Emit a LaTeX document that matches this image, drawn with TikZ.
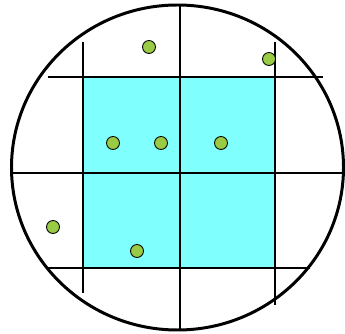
\documentclass[tikz,border=0pt]{standalone}
\usepackage{xcolor}
\usepackage{tikz}
\usetikzlibrary{shapes.geometric, positioning, calc}
\definecolor{cellcyan}{RGB}{128,255,255}
\definecolor{dotgreen}{RGB}{153,204,68}
\tikzstyle{gridline} = [line width=1.7pt, black]
\tikzstyle{dot} = [circle, draw=black, line width=0.5pt, fill=dotgreen, minimum size=0.26cm, inner sep=0pt]

\begin{document}
\begin{tikzpicture}[x=0.02cm, y=-0.02cm]
    \useasboundingbox (0,0) rectangle (345,334);
    % Inner cells
    \fill [cellcyan] (83,77) rectangle (275,268);

    % Grid
    \draw [gridline] (180,5) -- (180,330);
    \draw [gridline] (83,42) -- (83,293);
    \draw [gridline] (275,42) -- (275,305);
    \draw [gridline] (48,77) -- (323,77);
    \draw [gridline] (11,173) -- (345,173);
    \draw [gridline] (48,268) -- (310,268);

    % Outer boundary
    \draw [gridline] (177.5,167.5) ellipse [x radius=166, y radius=162.5];

    % Points
    \node (p1) [dot] at (149,47) {};
    \node (p2) [dot] at (269,59) {};
    \node (p3) [dot] at (113,143) {};
    \node (p4) [dot] at (161,143) {};
    \node (p5) [dot] at (221,143) {};
    \node (p6) [dot] at (53,227) {};
    \node (p7) [dot] at (137,251) {};
\end{tikzpicture}
\end{document}
